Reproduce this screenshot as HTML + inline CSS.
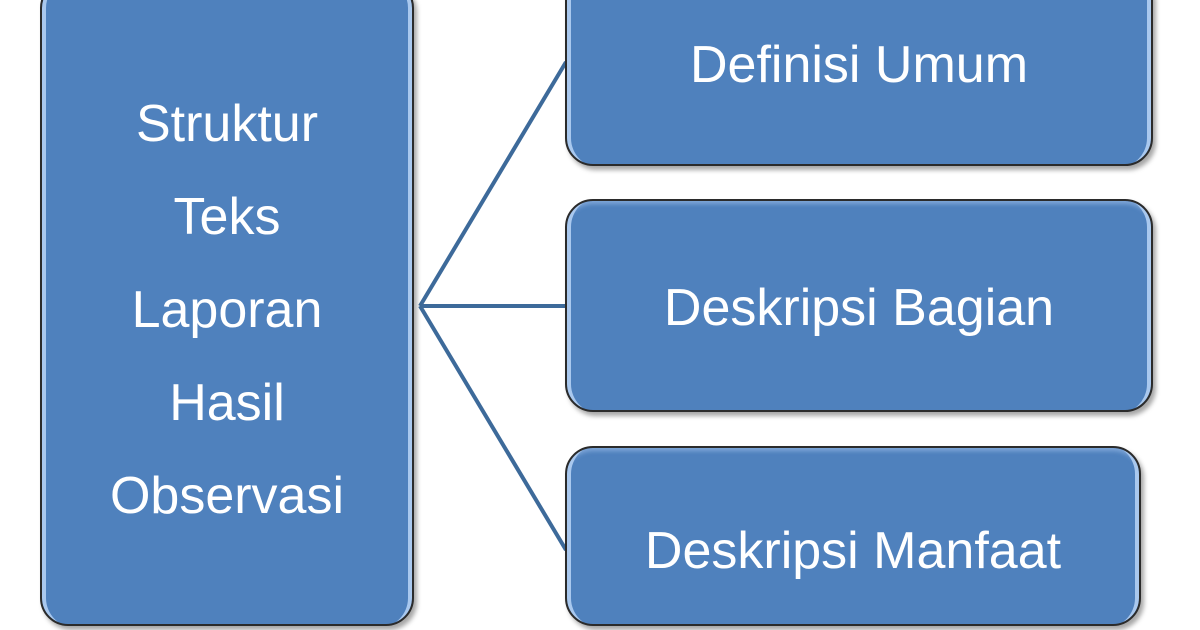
<!DOCTYPE html>
<html><head><style>
html,body{margin:0;width:1200px;height:630px;overflow:hidden;}
body{background:#fff;position:relative;font-family:"Liberation Sans",sans-serif;}
.b{position:absolute;background:#4f81bd;border:2px solid #2b2b2b;border-radius:28px;box-shadow:3px 4px 5px rgba(0,0,0,.35), inset 8px 0 0 -4px #a9c8ee, inset -8px 0 0 -4px #a9c8ee, inset 0 6px 4px -3px #7fa6d8;color:#fff;display:flex;align-items:center;justify-content:center;text-align:center;font-size:52px;box-sizing:border-box;}
</style></head><body>
<svg width="1200" height="630" style="position:absolute;left:0;top:0">
<g stroke="#3d6a9a" stroke-width="4" fill="none">
<line x1="420" y1="306" x2="566" y2="62"/>
<line x1="420" y1="306" x2="566" y2="306"/>
<line x1="420" y1="306" x2="566" y2="550"/>
</g></svg>
<div class="b" style="left:40px;top:-20px;width:374px;height:646px;line-height:93px;padding-top:14px;">Struktur<br>Teks<br>Laporan<br>Hasil<br>Observasi</div>
<div class="b" style="left:565px;top:-30px;width:588px;height:196px;padding-bottom:6px;">Definisi Umum</div>
<div class="b" style="left:565px;top:199px;width:588px;height:213px;padding-top:4px;">Deskripsi Bagian</div>
<div class="b" style="left:565px;top:446px;width:576px;height:180px;padding-top:30px;">Deskripsi Manfaat</div>
</body></html>
